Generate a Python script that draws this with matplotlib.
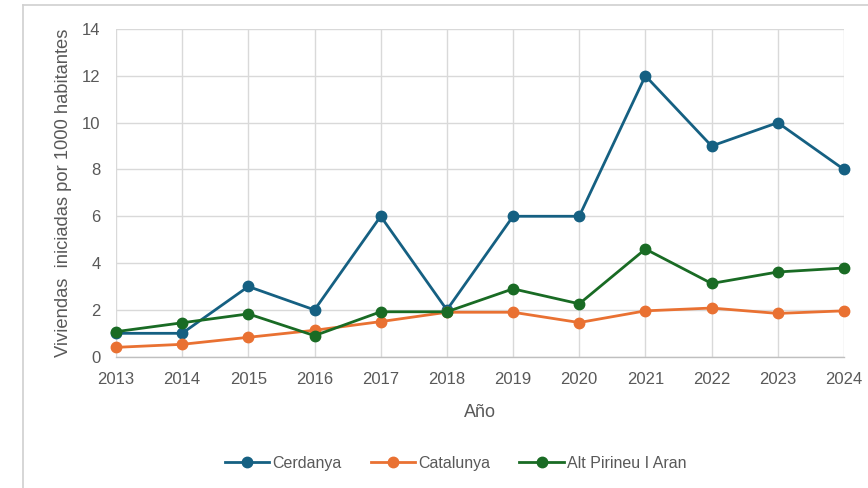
import matplotlib
matplotlib.use("Agg")
import matplotlib.pyplot as plt
from matplotlib.lines import Line2D

years = [2013, 2014, 2015, 2016, 2017, 2018, 2019, 2020, 2021, 2022, 2023, 2024]
cerdanya = [1, 1, 3, 2, 6, 2, 6, 6, 12, 9, 10, 8]
catalunya = [0.4, 0.53, 0.83, 1.13, 1.5, 1.9, 1.9, 1.46, 1.96, 2.08, 1.85, 1.96]
alt_pirineu = [1.07, 1.45, 1.83, 0.9, 1.92, 1.92, 2.9, 2.26, 4.6, 3.13, 3.62, 3.79]
series_names = ["Cerdanya", "Catalunya", "Alt Pirineu I Aran"]
colors = ["#156082", "#E97132", "#196B24"]

plt.rcParams['font.family'] = ['Liberation Sans', 'DejaVu Sans']

fig = plt.figure(figsize=(8.68, 4.88), dpi=100)
ax = fig.add_axes([0.1336, 0.269, 0.8387, 0.6716])

for vals, name, c in zip([cerdanya, catalunya, alt_pirineu], series_names, colors):
    ax.plot(years, vals, color=c, lw=2.0, marker='o', ms=7.5, label=name, zorder=3, clip_on=False)

ax.set_xlim(2013, 2024)
ax.set_ylim(0, 14)
ax.set_xticks(years)
ax.set_yticks(range(0, 15, 2))
ax.grid(True, color='#d9d9d9', lw=1.0, zorder=0)
ax.set_axisbelow(True)
for s in ['top', 'right', 'left']:
    ax.spines[s].set_visible(False)
ax.spines['bottom'].set_color('#bfbfbf')
ax.spines['bottom'].set_linewidth(1.0)
ax.tick_params(length=0, labelsize=12, labelcolor='#595959', pad=11)

ax.set_xlabel("Año", fontsize=13, color='#595959', labelpad=12)
ax.set_ylabel("Viviendas  iniciadas por 1000 habitantes", fontsize=13.2, color='#595959', labelpad=7)

handles = [Line2D([0], [0], color=c, lw=2.0, marker='o', ms=7.5) for c in colors]
fig.legend(handles, series_names, loc='center', bbox_to_anchor=(0.525, 0.051), ncol=3,
           frameon=False, fontsize=11.5, handlelength=2.8, columnspacing=1.8, handletextpad=0.2,
           labelcolor='#595959')

# outer chart frame (top and left)
fig.add_artist(Line2D([23/868, 1.0], [1-5/488, 1-5/488], color='#d0d0d0', lw=1.2, transform=fig.transFigure))
fig.add_artist(Line2D([23/868, 23/868], [0, 1-5/488], color='#d0d0d0', lw=1.2, transform=fig.transFigure))

fig.savefig("out.png", dpi=100)
